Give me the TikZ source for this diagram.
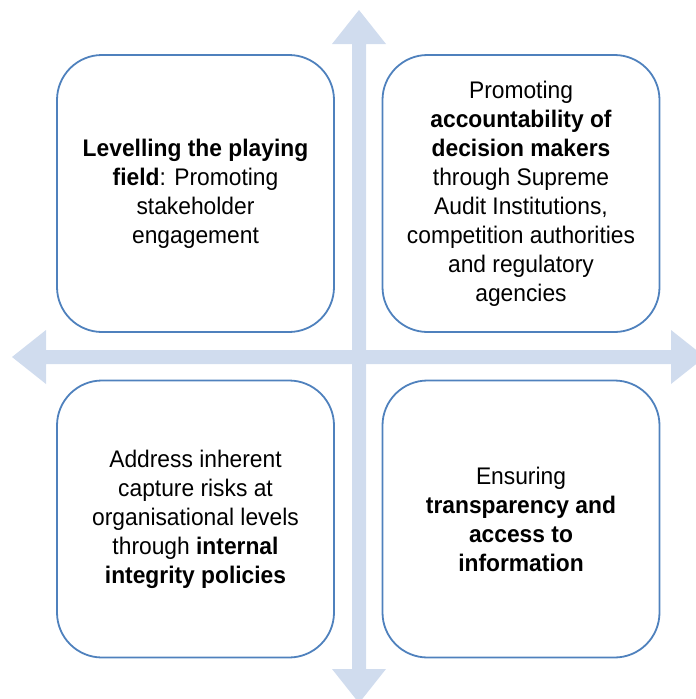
\documentclass[tikz,border=0pt]{standalone}
\usepackage{fontspec}
\setmainfont{Liberation Sans}[FakeStretch=0.95]
\definecolor{axisfill}{HTML}{D0DCEE}
\definecolor{boxline}{HTML}{4F81BD}
\begin{document}
\begin{tikzpicture}[x=1pt,y=-1pt,
  quadbox/.style={draw=boxline, line width=1.8pt, rounded corners=45pt,
    minimum width=277pt, minimum height=277pt, inner sep=0pt,
    align=center, font=\fontsize{24}{29}\selectfont},
  axisarrow/.style={fill=axisfill, draw=none}]
\useasboundingbox (0,0) rectangle (696,699);
\clip (0,0) rectangle (696,699);

% crossing double-headed axes
\fill[axisarrow] (12,357) -- (46,330) -- (46,350) -- (671,350) -- (671,330)
  -- (705,357) -- (671,384) -- (671,364) -- (46,364) -- (46,384) -- cycle;
\fill[axisarrow] (359,10) -- (386,44) -- (366,44) -- (366,669) -- (386,669)
  -- (359,703) -- (332,669) -- (352,669) -- (352,44) -- (332,44) -- cycle;

% four quadrants
\node[quadbox] (tl) at (195.5,193.5)
  {\textbf{Levelling the playing}\\ \textbf{field}: Promoting\\ stakeholder\\ engagement};
\node[quadbox] (tr) at (521,193.5)
  {Promoting\\ \textbf{accountability of}\\ \textbf{decision makers}\\ through Supreme\\
   Audit Institutions,\\ competition authorities\\ and regulatory\\ agencies};
\node[quadbox] (bl) at (195.5,519)
  {Address inherent\\ capture risks at\\ organisational levels\\ through \textbf{internal}\\
   \textbf{integrity policies}};
\node[quadbox] (br) at (521,519)
  {Ensuring\\ \textbf{transparency and}\\ \textbf{access to}\\ \textbf{information}};
\end{tikzpicture}
\end{document}
